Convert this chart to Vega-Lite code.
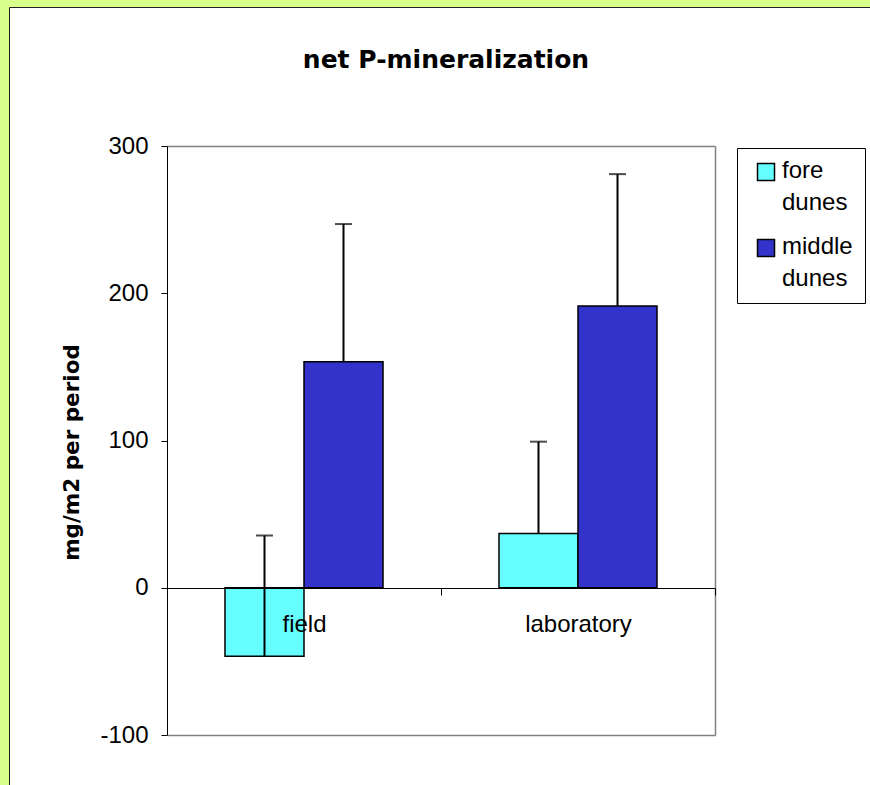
{
  "$schema": "https://vega.github.io/schema/vega-lite/v6.json",
  "width": 861,
  "height": 778,
  "autosize": {"type": "none"},
  "padding": {"left": 9, "top": 7, "right": 0, "bottom": 0},
  "background": "#d9ff8c",
  "view": {"fill": "white", "stroke": "#222222", "strokeWidth": 1},
  "title": {
    "text": "net P-mineralization",
    "font": "DejaVu Sans",
    "fontSize": 25,
    "fontWeight": "bold",
    "color": "black",
    "anchor": "middle",
    "frame": "group",
    "offset": -86,
    "dx": 6.5,
    "baseline": "alphabetic"
  },
  "data": {
    "values": [
      {"category": "field", "series": "fore dunes", "value": -46.5, "upper": 35.5},
      {"category": "field", "series": "middle dunes", "value": 153.4, "upper": 247},
      {"category": "laboratory", "series": "fore dunes", "value": 36.8, "upper": 99.2},
      {"category": "laboratory", "series": "middle dunes", "value": 191.4, "upper": 280.9}
    ]
  },
  "encoding": {
    "x": {
      "field": "category",
      "type": "nominal",
      "sort": null,
      "scale": {"range": [158, 706], "paddingInner": 0, "paddingOuter": 0},
      "axis": {
        "orient": "bottom",
        "offset": -197,
        "title": null,
        "domainColor": "black",
        "domainWidth": 1,
        "tickBand": "extent",
        "tickColor": "black",
        "tickSize": 7,
        "tickWidth": 1,
        "labelFont": "Liberation Sans",
        "labelFontSize": 24,
        "labelColor": "black",
        "labelPadding": 17,
        "labelAngle": 0,
        "grid": false,
        "zindex": 1
      }
    },
    "xOffset": {
      "field": "series",
      "type": "nominal",
      "sort": null,
      "scale": {"paddingInner": 0, "paddingOuter": 0.734}
    }
  },
  "layer": [
    {
      "mark": {"type": "bar", "stroke": "black", "strokeWidth": 1.5},
      "encoding": {
        "y": {
          "field": "value",
          "type": "quantitative",
          "scale": {"domain": [-100, 300], "range": [728, 139], "nice": false, "zero": false},
          "axis": {
            "orient": "left",
            "offset": -158,
            "values": [-100, 0, 100, 200, 300],
            "labelExpr": "toString(datum.value)",
            "domainColor": "black",
            "domainWidth": 1,
            "tickColor": "black",
            "tickSize": 6,
            "tickWidth": 1,
            "labelFont": "Liberation Sans",
            "labelFontSize": 24,
            "labelColor": "black",
            "labelPadding": 13,
            "title": "mg/m2 per period",
            "titleFont": "DejaVu Sans",
            "titleFontSize": 21.5,
            "titleFontWeight": "bold",
            "titleColor": "black",
            "titleX": -84,
            "titleY": 445,
            "grid": true,
            "gridColor": "#808080",
            "gridWidth": 1.5,
            "gridOpacity": {"condition": {"test": "datum.value == -100 || datum.value == 300", "value": 1}, "value": 0},
            "zindex": 1
          }
        },
        "color": {
          "field": "series",
          "type": "nominal",
          "sort": null,
          "scale": {"domain": ["fore dunes", "middle dunes"], "range": ["#66ffff", "#3333cc"]},
          "legend": {
            "title": null,
            "orient": "none",
            "legendX": 728,
            "legendY": 141,
            "direction": "vertical",
            "fillColor": "white",
            "strokeColor": "black",
            "padding": 12,
            "symbolType": "square",
            "symbolSize": 289,
            "symbolStrokeColor": "black",
            "symbolStrokeWidth": 1.5,
            "symbolOffset": 5,
            "labelOffset": 4,
            "labelFont": "Liberation Sans",
            "labelFontSize": 24,
            "labelColor": "black",
            "labelLimit": 300,
            "labelBaseline": "alphabetic",
            "labelExpr": "split(datum.label, ' ')",
            "rowPadding": 20,
            "encode": {"labels": {"update": {"lineHeight": {"value": 32}, "dy": {"value": 6}}}}
          }
        }
      }
    },
    {
      "mark": {"type": "rule", "color": "black", "strokeWidth": 2},
      "encoding": {
        "y": {
          "field": "value",
          "type": "quantitative",
          "scale": {"domain": [-100, 300], "range": [728, 139], "nice": false, "zero": false},
          "axis": {
            "orient": "right",
            "offset": -155,
            "domainColor": "#808080",
            "domainWidth": 1.5,
            "ticks": false,
            "labels": false,
            "grid": false,
            "title": null
          }
        },
        "y2": {"field": "upper"}
      }
    },
    {
      "mark": {"type": "tick", "orient": "horizontal", "color": "black", "size": 17, "thickness": 2},
      "encoding": {
        "y": {
          "field": "upper",
          "type": "quantitative",
          "scale": {"domain": [-100, 300], "range": [728, 139], "nice": false, "zero": false},
          "axis": null
        }
      }
    }
  ],
  "resolve": {"axis": {"y": "independent"}}
}
